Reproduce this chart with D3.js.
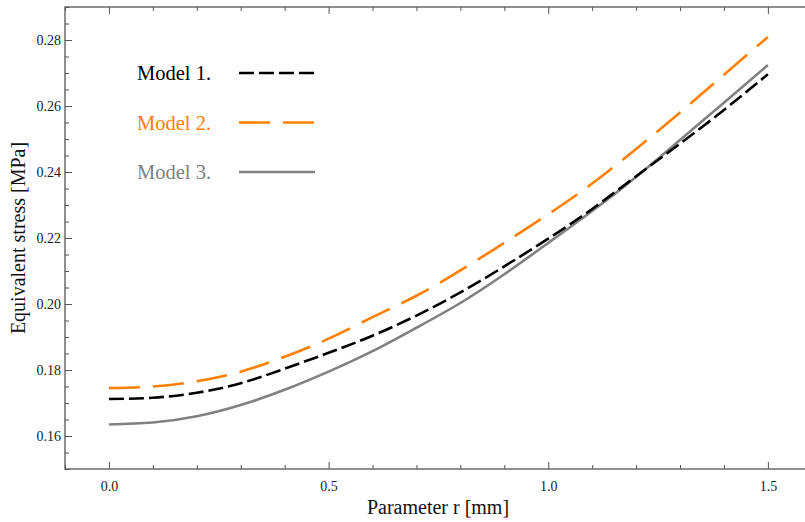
<!DOCTYPE html>
<html>
<head>
<meta charset="utf-8">
<script src="https://cdn.jsdelivr.net/npm/d3@7"></script>
<style>
  body { margin: 0; background: #fff; }
  svg { display: block; font-family: "Liberation Serif", "Times New Roman", serif; }
</style>
</head>
<body>
<div id="chart"></div>
<script>
// parameter r [mm]
var radius = [0, 0.1, 0.2, 0.3, 0.4, 0.5, 0.6, 0.7, 0.8, 0.9, 1.0, 1.1, 1.2, 1.3, 1.4, 1.5];
// equivalent stress [MPa]
var model1 = [0.1712, 0.1716, 0.1731, 0.1760, 0.1804, 0.1852, 0.1904, 0.1965, 0.2035, 0.2114, 0.2198, 0.2288, 0.2387, 0.2486, 0.2588, 0.2696];
var model2 = [0.1745, 0.1750, 0.1766, 0.1795, 0.1840, 0.1895, 0.1960, 0.2025, 0.2102, 0.2185, 0.2272, 0.2365, 0.2470, 0.2580, 0.2695, 0.2809];
var model3 = [0.1635, 0.1641, 0.1660, 0.1694, 0.1740, 0.1795, 0.1857, 0.1928, 0.2003, 0.2090, 0.2185, 0.2282, 0.2385, 0.2497, 0.2610, 0.2724];

var seriesNames = ["Model 1.", "Model 2.", "Model 3."];
var xTicks = [0, 0.5, 1.0, 1.5];
var yTicks = [0.16, 0.18, 0.20, 0.22, 0.24, 0.26, 0.28];

(function() {
  var W = 805, H = 522;
  var padLeft = 65, padTop = 7, padBottom = 469;

  var x = d3.scaleLinear().domain([-0.1, 1.6]).range([padLeft, padLeft + 1.7 * 439.3]);
  var y = d3.scaleLinear().domain([0.15, 0.29]).range([padBottom, padTop]);

  var svg = d3.select("#chart").append("svg")
    .attr("width", W).attr("height", H);

  var frameColor = "#555";

  // minor tick values
  var xMinor = d3.range(-1, 17).map(function(i) { return i / 10; })
    .filter(function(v) { return xTicks.indexOf(v) < 0; });
  var yMinor = d3.range(30, 59).map(function(i) { return i / 200; })
    .filter(function(v) { return yTicks.every(function(t) { return Math.abs(t - v) > 1e-9; }); });

  function styleAxis(g) {
    g.select(".domain").remove();
    g.attr("font-size", null).attr("font-family", null);
    g.selectAll("line").attr("stroke", frameColor).attr("stroke-width", 1);
    g.selectAll("text").attr("fill", "#222").style("font-size", "14px")
      .style("font-family", "'Liberation Serif', serif");
  }

  // bottom
  svg.append("g").attr("transform", "translate(0," + padBottom + ")")
    .call(d3.axisBottom(x).tickValues(xTicks).tickSize(-7).tickPadding(12).tickFormat(d3.format(".1f")))
    .call(styleAxis);
  svg.append("g").attr("transform", "translate(0," + padBottom + ")")
    .call(d3.axisBottom(x).tickValues(xMinor).tickSize(-4).tickFormat(""))
    .call(styleAxis);
  // top
  svg.append("g").attr("transform", "translate(0," + padTop + ")")
    .call(d3.axisTop(x).tickValues(xTicks).tickSize(-7).tickFormat(""))
    .call(styleAxis);
  svg.append("g").attr("transform", "translate(0," + padTop + ")")
    .call(d3.axisTop(x).tickValues(xMinor).tickSize(-4).tickFormat(""))
    .call(styleAxis);
  // left
  svg.append("g").attr("transform", "translate(" + padLeft + ",0)")
    .call(d3.axisLeft(y).tickValues(yTicks).tickSize(-7).tickPadding(4).tickFormat(d3.format(".2f")))
    .call(styleAxis);
  svg.append("g").attr("transform", "translate(" + padLeft + ",0)")
    .call(d3.axisLeft(y).tickValues(yMinor).tickSize(-4).tickFormat(""))
    .call(styleAxis);

  // frame
  svg.append("rect")
    .attr("x", padLeft).attr("y", padTop)
    .attr("width", x.range()[1] - padLeft).attr("height", padBottom - padTop)
    .attr("fill", "none").attr("stroke", frameColor).attr("stroke-width", 1.3);

  // axis titles
  svg.append("text")
    .attr("x", 438).attr("y", 514)
    .attr("text-anchor", "middle").style("font-size", "20px").attr("fill", "#111")
    .text("Parameter r [mm]");
  svg.append("text")
    .attr("transform", "translate(25," + ((padTop + padBottom) / 2) + ") rotate(-90)")
    .attr("text-anchor", "middle").style("font-size", "20px").attr("fill", "#111")
    .text("Equivalent stress [MPa]");

  var series = [
    { name: seriesNames[0], values: model1, color: "#000000", dash: "15,5" },
    { name: seriesNames[1], values: model2, color: "#ff8000", dash: "31,13" },
    { name: seriesNames[2], values: model3, color: "#808080", dash: null }
  ];

  var line = d3.line()
    .x(function(d, i) { return x(radius[i]); })
    .y(function(d) { return y(d); })
    .curve(d3.curveNatural);

  // gray first so the dashed ones sit over it
  [series[2], series[1], series[0]].forEach(function(s) {
    svg.append("path")
      .attr("d", line(s.values))
      .attr("fill", "none")
      .attr("stroke", s.color)
      .attr("stroke-width", 2.6)
      .attr("stroke-dasharray", s.dash);
  });

  // legend
  var legend = svg.append("g");
  series.forEach(function(s, i) {
    var ly = 73 + i * 49.5;
    legend.append("text")
      .attr("x", 137).attr("y", ly + 7)
      .style("font-size", "20.5px").attr("fill", s.color)
      .text(s.name);
    legend.append("line")
      .attr("x1", 239).attr("x2", 315).attr("y1", ly).attr("y2", ly)
      .attr("stroke", s.color).attr("stroke-width", 2.6)
      .attr("stroke-dasharray", s.dash);
  });
})();
</script>
</body>
</html>
